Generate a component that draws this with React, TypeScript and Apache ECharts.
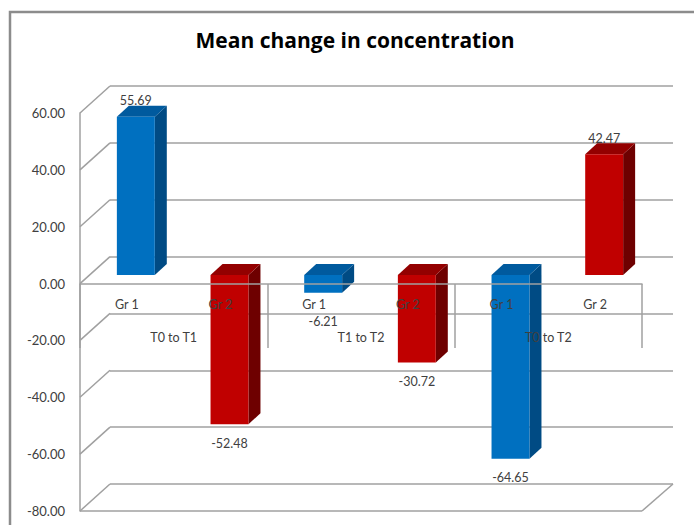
import React, { useEffect, useRef } from "react";
import * as echarts from "echarts";

const chartTitle = "Mean change in concentration";
const groups = ["T0 to T1", "T1 to T2", "T0 to T2"];
const categories = ["Gr 1", "Gr 2", "Gr 1", "Gr 2", "Gr 1", "Gr 2"];
const values = [55.69, -52.48, -6.21, -30.72, -64.65, 42.47];
const yTicks = [-80, -60, -40, -20, 0, 20, 40, 60];
const Y_MIN = -80;
const Y_MAX = 60;
const Y_STEP = 20;

const COLORS: Record<string, { front: string; side: string; top: string }> = {
  "Gr 1": { front: "#0070C0", side: "#004B84", top: "#005A9E" },
  "Gr 2": { front: "#C00000", side: "#6E0000", top: "#930000" },
};

const GRID_COLOR = "#a0a0a0";
const TEXT_COLOR = "#404040";
const FONT = "Lato";
const DEPTH_X = 30;
const DEPTH_Y = -27;
const BAR_SHIFT_X = 9;
const BAR_SHIFT_Y = -8.5;
const BAR_DX = 12;
const BAR_DY = -11;

export default function App() {
  const ref = useRef<HTMLDivElement>(null);
  useEffect(() => {
    if (!ref.current) return;
    const chart = echarts.init(ref.current, undefined, { renderer: "svg" });
    const gridBase = { containLabel: false, outerBoundsMode: "none" };
    const option: any = {
      animation: false,
      backgroundColor: "#fff",
      title: {
        text: chartTitle,
        left: 355,
        top: 29,
        padding: 0,
        textAlign: "center",
        textStyle: { fontFamily: "Open Sans", fontWeight: "bold", fontSize: 21, color: "#000" },
      },
      graphic: [
        {
          type: "rect",
          silent: true,
          shape: { x: 10, y: 12, width: 720, height: 620 },
          style: { fill: "none", stroke: "#8c8c8c", lineWidth: 2.5 },
          z: 100,
        },
      ],
      grid: [
        { ...gridBase, left: 110, right: 21, top: 86, bottom: 41 },
        { ...gridBase, left: 80, right: 52, top: 113, bottom: 14 },
        { ...gridBase, left: 80, right: 52, top: 113, bottom: 241 },
      ],
      xAxis: [
        { gridIndex: 0, type: "category", data: categories, show: false },
        { gridIndex: 1, type: "category", data: categories, show: false },
        {
          gridIndex: 2,
          type: "category",
          position: "bottom",
          data: categories,
          z: 10,
          axisLine: { show: true, onZero: false, lineStyle: { color: GRID_COLOR, width: 1.5 } },
          axisTick: { show: false },
          axisLabel: { margin: 14, color: TEXT_COLOR, fontSize: 12.5, fontFamily: FONT },
        },
        {
          gridIndex: 2,
          type: "category",
          position: "bottom",
          data: groups,
          z: 10,
          axisLine: { show: false, onZero: false },
          axisTick: { show: true, length: 64, lineStyle: { color: GRID_COLOR, width: 1.5 } },
          axisLabel: { margin: 47, color: TEXT_COLOR, fontSize: 12.5, fontFamily: FONT },
        },
      ],
      yAxis: [
        {
          gridIndex: 0,
          type: "value",
          min: Y_MIN,
          max: Y_MAX,
          interval: Y_STEP,
          axisLine: { show: false },
          axisTick: { show: false },
          axisLabel: { show: false },
          splitLine: { show: true, lineStyle: { color: GRID_COLOR, width: 1.5 } },
        },
        {
          gridIndex: 1,
          type: "value",
          min: Y_MIN,
          max: Y_MAX,
          interval: Y_STEP,
          axisLine: { show: true, lineStyle: { color: GRID_COLOR, width: 1.5 } },
          axisTick: { show: false },
          splitLine: { show: false },
          axisLabel: {
            margin: 15,
            color: TEXT_COLOR,
            fontSize: 13,
            fontFamily: FONT,
            formatter: (v: number) => v.toFixed(2),
          },
        },
        { gridIndex: 2, type: "value", show: false, min: 0, max: 1 },
      ],
      series: [
        {
          type: "custom",
          name: "sideWall",
          xAxisIndex: 1,
          yAxisIndex: 1,
          silent: true,
          z: 1,
          data: yTicks.map((v) => [0, v]),
          renderItem: (params: any, api: any) => {
            const p = api.coord([0, api.value(1)]);
            const x = params.coordSys.x;
            return {
              type: "line",
              shape: { x1: x, y1: p[1], x2: x + DEPTH_X, y2: p[1] + DEPTH_Y },
              style: { stroke: GRID_COLOR, lineWidth: 1.5 },
            };
          },
        },
        {
          type: "custom",
          name: "floor",
          xAxisIndex: 1,
          yAxisIndex: 1,
          silent: true,
          z: 1,
          data: [[0, Y_MIN]],
          renderItem: (params: any, api: any) => {
            const p = api.coord([0, api.value(1)]);
            const cs = params.coordSys;
            const xr = cs.x + cs.width;
            return {
              type: "group",
              children: [
                {
                  type: "line",
                  shape: { x1: cs.x, y1: p[1], x2: xr, y2: p[1] },
                  style: { stroke: GRID_COLOR, lineWidth: 1.5 },
                },
                {
                  type: "line",
                  shape: { x1: xr, y1: p[1], x2: xr + DEPTH_X + 1, y2: p[1] + DEPTH_Y },
                  style: { stroke: GRID_COLOR, lineWidth: 1.5 },
                },
              ],
            };
          },
        },
        {
          type: "custom",
          name: "bars",
          xAxisIndex: 1,
          yAxisIndex: 1,
          z: 3,
          data: values.map((v, i) => [i, v]),
          encode: { x: 0, y: 1 },
          renderItem: (params: any, api: any) => {
            const idx = api.value(0);
            const v = api.value(1);
            const base = api.coord([idx, 0]);
            const end = api.coord([idx, v]);
            const band = api.size([1, 0])[0];
            const w = band * 0.405;
            const cx = base[0] + BAR_SHIFT_X;
            const x0 = cx - w / 2;
            const x1 = cx + w / 2;
            const yA = base[1] + BAR_SHIFT_Y;
            const yB = end[1] + BAR_SHIFT_Y;
            const yTop = Math.min(yA, yB);
            const yBot = Math.max(yA, yB);
            const c = COLORS[categories[idx]];
            const labelY = v >= 0 ? yTop - 16 : Math.max(yBot + 19, base[1] + 38);
            return {
              type: "group",
              children: [
                {
                  type: "polygon",
                  shape: {
                    points: [
                      [x1, yTop],
                      [x1 + BAR_DX, yTop + BAR_DY],
                      [x1 + BAR_DX, yBot + BAR_DY],
                      [x1, yBot],
                    ],
                  },
                  style: { fill: c.side },
                },
                {
                  type: "polygon",
                  shape: {
                    points: [
                      [x0, yTop],
                      [x0 + BAR_DX, yTop + BAR_DY],
                      [x1 + BAR_DX, yTop + BAR_DY],
                      [x1, yTop],
                    ],
                  },
                  style: { fill: c.top },
                },
                {
                  type: "rect",
                  shape: { x: x0, y: yTop, width: w, height: yBot - yTop },
                  style: { fill: c.front },
                },
                {
                  type: "text",
                  x: cx,
                  y: labelY,
                  style: {
                    text: v.toFixed(2),
                    align: "center",
                    verticalAlign: "middle",
                    fill: TEXT_COLOR,
                    fontSize: 12.5,
                    fontFamily: FONT,
                  },
                },
              ],
            };
          },
        },
      ],
    };
    chart.setOption(option);
    return () => chart.dispose();
  }, []);
  return (
    <div
      ref={ref}
      style={{ position: "fixed", left: 0, top: 0, width: 694, height: 525 }}
    />
  );
}
